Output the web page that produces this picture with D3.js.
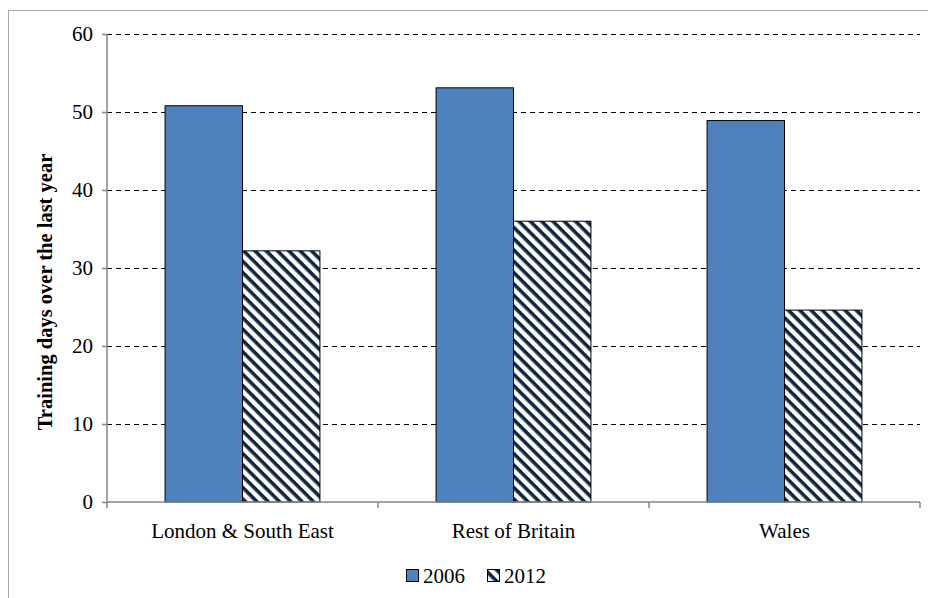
<!DOCTYPE html>
<html>
<head>
<meta charset="utf-8">
<script src="https://cdn.jsdelivr.net/npm/d3@7"></script>
<style>
  body { margin: 0; background: #fff; }
  svg text { font-family: "Liberation Serif", "Times New Roman", serif; fill: #000; }
</style>
</head>
<body>
<div id="vis-container"></div>
<script>
"use strict";

// Chart data
const regions = ["London & South East", "Rest of Britain", "Wales"];
const seriesNames = ["2006", "2012"];
const values2006 = [50.8, 53.1, 48.9];
const values2012 = [32.2, 36.0, 24.6];
const yTicks = [0, 10, 20, 30, 40, 50, 60];

function mainIndex()
{
    const width = 928, height = 598;
    const margin = { top: 34, right: 8, bottom: 96, left: 107 };
    const dims = {
        width: 920 - margin.left,
        height: 502 - margin.top
    };

    const svg = d3.select("#vis-container")
        .append("svg")
        .attr("width", width)
        .attr("height", height);

    // Hatch pattern for 2012 (wide downward diagonal)
    const defs = svg.append("defs");
    defs.append("pattern")
        .attr("id", "hatch")
        .attr("patternUnits", "userSpaceOnUse")
        .attr("width", 8)
        .attr("height", 8)
        .attr("patternTransform", "rotate(45)")
        .call(p => {
            p.append("rect").attr("width", 8).attr("height", 8).attr("fill", "#fff");
            p.append("rect").attr("x", 0).attr("y", 0).attr("width", 8).attr("height", 3.6).attr("fill", "#10263f");
        });

    // Outer chart border
    svg.append("rect")
        .attr("x", 8.5)
        .attr("y", 10.5)
        .attr("width", 940)
        .attr("height", 620)
        .attr("fill", "none")
        .attr("stroke", "#a6a6a6")
        .attr("stroke-width", 1);

    const g = svg.append("g")
        .attr("transform", `translate(${margin.left},${margin.top})`);

    const x0 = d3.scaleBand().domain(regions).range([0, dims.width]).paddingInner(0).paddingOuter(0);
    const barW = x0.bandwidth() / (2 + 1.5);
    const x1 = d3.scaleBand().domain(seriesNames).range([0, barW * 2]);
    const y = d3.scaleLinear().domain([0, 60]).range([dims.height, 0]);

    // Gridlines
    g.append("g")
        .selectAll("line")
        .data(yTicks.filter(d => d > 0))
        .enter()
        .append("line")
        .attr("x1", 0)
        .attr("x2", dims.width)
        .attr("y1", d => Math.round(y(d)) + 0.5)
        .attr("y2", d => Math.round(y(d)) + 0.5)
        .attr("stroke", "#000")
        .attr("stroke-width", 1)
        .attr("stroke-dasharray", "5,4");

    // Bars
    const data = regions.map((r, i) => ({ region: r, vals: [values2006[i], values2012[i]] }));
    const groups = g.selectAll(".grp")
        .data(data)
        .enter()
        .append("g")
        .attr("transform", d => `translate(${x0(d.region) + barW * 0.75},0)`);

    groups.selectAll("rect")
        .data(d => d.vals.map((v, j) => ({ key: seriesNames[j], v })))
        .enter()
        .append("rect")
        .attr("x", d => x1(d.key))
        .attr("y", d => y(d.v))
        .attr("width", x1.bandwidth())
        .attr("height", d => dims.height - y(d.v))
        .attr("fill", d => d.key === "2006" ? "#4f81bd" : "url(#hatch)")
        .attr("stroke", "#000")
        .attr("stroke-width", 1);

    // Y axis
    const yAxis = d3.axisLeft(y).tickValues(yTicks).tickSize(5).tickPadding(9);
    g.append("g")
        .call(yAxis)
        .call(a => a.select(".domain").attr("stroke", "#868686").attr("stroke-width", 1.5).attr("d", `M0,${dims.height}V0`))
        .call(a => a.selectAll(".tick line").attr("stroke", "#868686").attr("stroke-width", 1.5))
        .call(a => a.selectAll(".tick text").style("font-size", "21px").style("font-family", "Liberation Serif"));

    // X axis
    const xAxis = d3.axisBottom(x0).tickSize(0).tickPadding(21);
    const xg = g.append("g")
        .attr("transform", `translate(0,${dims.height})`)
        .call(xAxis)
        .call(a => a.select(".domain").attr("stroke", "#868686").attr("stroke-width", 1.5).attr("d", `M0,0H${dims.width}`))
        .call(a => a.selectAll(".tick text").style("font-size", "21px").style("font-family", "Liberation Serif"));

    xg.selectAll(".sep")
        .data([0, 1, 2, 3])
        .enter()
        .append("line")
        .attr("x1", i => i * x0.bandwidth())
        .attr("x2", i => i * x0.bandwidth())
        .attr("y1", 0)
        .attr("y2", 6)
        .attr("stroke", "#868686")
        .attr("stroke-width", 1.5);

    // Y axis title
    svg.append("text")
        .attr("transform", "translate(52,292) rotate(-90)")
        .attr("text-anchor", "middle")
        .style("font-size", "20.5px")
        .style("font-weight", "bold")
        .text("Training days over the last year");

    // Legend
    const legend = svg.append("g").attr("transform", "translate(406,569)");
    const items = legend.selectAll("g")
        .data(seriesNames)
        .enter()
        .append("g")
        .attr("transform", (d, i) => `translate(${i * 81},0)`);
    items.append("rect")
        .attr("x", 0.5)
        .attr("y", 0.5)
        .attr("width", 12)
        .attr("height", 12)
        .attr("fill", d => d === "2006" ? "#4f81bd" : "url(#hatch)")
        .attr("stroke", "#000");
    items.append("text")
        .attr("x", 17)
        .attr("y", 14)
        .style("font-size", "21px")
        .text(d => d);
}

document.addEventListener("DOMContentLoaded", mainIndex);
</script>
</body>
</html>
